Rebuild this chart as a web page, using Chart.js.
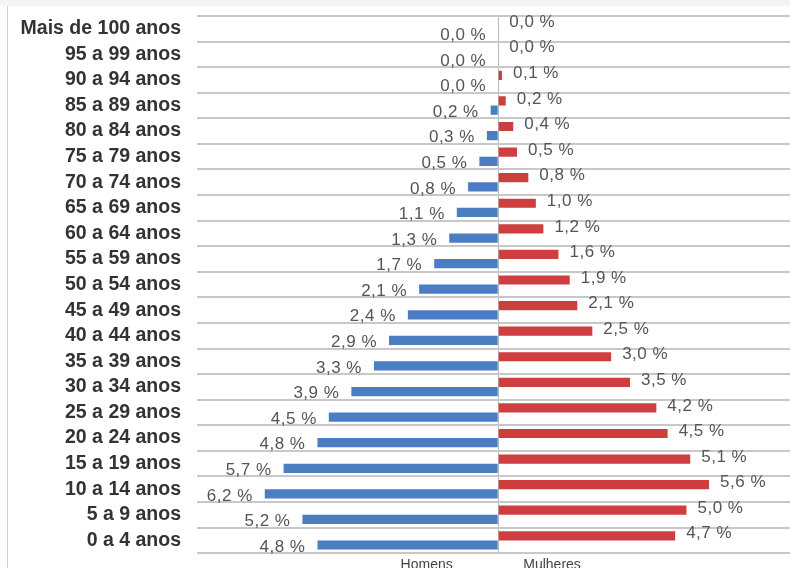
<!DOCTYPE html>
<html>
<head>
<meta charset="utf-8">
<script src="https://cdn.jsdelivr.net/npm/chart.js@4"></script>
<style>
  html, body { margin: 0; padding: 0; background: #fff; overflow: hidden; }
  #wrap { position: absolute; left: 0; top: 0; width: 790px; height: 578px; }
</style>
</head>
<body>
<div id="wrap"><canvas id="pyramid"></canvas></div>
<script>
// faixas etárias, de cima para baixo
const ageGroups = [
  'Mais de 100 anos', '95 a 99 anos', '90 a 94 anos', '85 a 89 anos', '80 a 84 anos',
  '75 a 79 anos', '70 a 74 anos', '65 a 69 anos', '60 a 64 anos', '55 a 59 anos',
  '50 a 54 anos', '45 a 49 anos', '40 a 44 anos', '35 a 39 anos', '30 a 34 anos',
  '25 a 29 anos', '20 a 24 anos', '15 a 19 anos', '10 a 14 anos', '5 a 9 anos', '0 a 4 anos',
];
const men = [0.0, 0.0, 0.0, 0.2, 0.3, 0.5, 0.8, 1.1, 1.3, 1.7, 2.1, 2.4, 2.9, 3.3, 3.9, 4.5, 4.8, 5.7, 6.2, 5.2, 4.8];
const women = [0.0, 0.0, 0.1, 0.2, 0.4, 0.5, 0.8, 1.0, 1.2, 1.6, 1.9, 2.1, 2.5, 3.0, 3.5, 4.2, 4.5, 5.1, 5.6, 5.0, 4.7];
const sexLabels = ['Homens', 'Mulheres'];

Chart.defaults.font.family = "'Liberation Sans', Arial, sans-serif";

const fmt = (v) => Math.abs(v).toFixed(1).replace('.', ',') + ' %';

// moldura cinza à esquerda
const frame = {
  id: 'frame',
  beforeDraw(chart) {
    const { ctx } = chart;
    ctx.save();
    ctx.fillStyle = '#f4f4f4';
    ctx.fillRect(0, 0, chart.width, 6);
    ctx.fillStyle = '#d0d0d0';
    ctx.fillRect(7, 6, 1, chart.height);
    ctx.restore();
  },
};

// rótulos de valor nas pontas das barras
const valueLabels = {
  id: 'valueLabels',
  afterDatasetsDraw(chart) {
    const { ctx } = chart;
    ctx.save();
    ctx.font = "17px 'Liberation Sans', Arial, sans-serif";
    ctx.letterSpacing = '0.5px';
    ctx.fillStyle = '#555';
    ctx.textBaseline = 'middle';
    chart.data.datasets.forEach((ds, i) => {
      chart.getDatasetMeta(i).data.forEach((bar, j) => {
        const v = ds.data[j];
        if (i === 1) {
          ctx.textAlign = 'right';
          ctx.fillText(fmt(v), Math.min(bar.x, bar.base) - 12, bar.y + 2);
        } else {
          ctx.textAlign = 'left';
          ctx.fillText(fmt(v), Math.max(bar.x, bar.base) + 11, bar.y - 2);
        }
      });
    });
    ctx.restore();
  },
};

new Chart(document.getElementById('pyramid'), {
  type: 'bar',
  data: {
    labels: ageGroups,
    datasets: [
      {
        label: sexLabels[1],
        data: women,
        backgroundColor: '#cf3e3e',
        categoryPercentage: 0.72,
        barPercentage: 1,
      },
      {
        label: sexLabels[0],
        data: men.map((v) => -v),
        backgroundColor: '#4a7dc2',
        categoryPercentage: 0.72,
        barPercentage: 1,
      },
    ],
  },
  options: {
    indexAxis: 'y',
    responsive: true,
    maintainAspectRatio: false,
    animation: false,
    layout: { padding: { top: 16, left: 0, right: 0, bottom: 0 } },
    scales: {
      x: {
        min: -8,
        max: 7.75,
        afterBuildTicks(scale) {
          scale.ticks = [{ value: -1.9 }, { value: 0 }, { value: 1.43 }];
        },
        ticks: {
          autoSkip: false,
          maxRotation: 0,
          padding: 4,
          color: '#444',
          font: { size: 14 },
          callback: (value, index) => (index === 0 ? sexLabels[0] : (index === 2 ? sexLabels[1] : '')),
        },
        grid: {
          drawTicks: false,
          lineWidth: 1,
          color: (c) => (c.tick && c.tick.value === 0 ? '#b8b8b8' : 'rgba(0,0,0,0)'),
        },
        border: { display: false },
      },
      y: {
        afterFit(scale) {
          scale.width = 197;
          scale.paddingTop = 0;
          scale.paddingBottom = 0;
        },
        ticks: {
          padding: 16,
          color: '#333',
          font: { size: 19.5, weight: 'bold' },
          autoSkip: false,
        },
        grid: {
          drawTicks: false,
          lineWidth: 2,
          color: '#c8c8c8',
        },
        border: { display: false },
      },
    },
    plugins: {
      legend: { display: false },
      tooltip: { enabled: false },
    },
  },
  plugins: [frame, valueLabels],
});
</script>
</body>
</html>
